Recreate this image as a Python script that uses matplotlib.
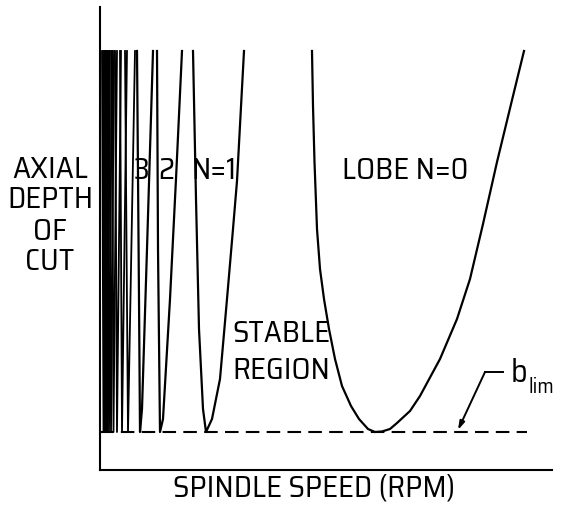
import matplotlib
matplotlib.use("Agg")
import matplotlib.pyplot as plt

plt.rcParams['font.family'] = ['Saira SemiCondensed', 'DejaVu Sans']

# spindle speed (rpm) and axial depth (mm) read along each lobe
lobe0_speed = [4240, 4260, 4290, 4340, 4400, 4480, 4580, 4700, 4840, 5020, 5180, 5360, 5500,
               5640, 5800, 5940, 6200, 6400, 6800, 7140, 7400, 7660, 7940, 8260, 8480]
lobe0_depth = [4.19, 3.64, 3.08, 2.41, 2.01, 1.71, 1.41, 1.11, 0.84, 0.64, 0.51, 0.41, 0.38,
               0.385, 0.41, 0.47, 0.59, 0.74, 1.11, 1.51, 1.91, 2.46, 3.08, 3.74, 4.19]

lobe1_speed = [1860, 1920, 1980, 2060, 2120, 2240, 2400, 2540, 2660, 2740, 2880]
lobe1_depth = [4.19, 2.71, 1.41, 0.61, 0.38, 0.51, 0.91, 1.71, 2.41, 2.89, 4.19]

lobe2_speed = [1140, 1160, 1200, 1260, 1400, 1520, 1640]
lobe2_depth = [4.19, 2.21, 0.38, 0.51, 1.71, 2.91, 4.19]

lobe3_speed = [740, 780, 800, 840, 940, 1060]
lobe3_depth = [4.19, 1.71, 0.38, 0.61, 2.21, 4.19]

# higher lobes N=4..14: left top, minimum, right top speeds
high_left = [500, 400, 300, 240, 190, 150, 120, 100, 80, 60, 40]
high_min = [560, 440, 340, 270, 220, 180, 150, 130, 110, 90, 70]
high_right = [700, 540, 420, 340, 280, 240, 200, 180, 160, 130, 100]

b_lim = 0.38
lobe_top = 4.19
b_lim_end = 8540

fig = plt.figure(figsize=(5.62, 5.06), dpi=100)
ax = fig.add_axes([100 / 562, 35 / 506, 452 / 562, 463 / 506])
ax.set_xlim(0, 9040)
ax.set_ylim(0, 4.63)
for s in ['top', 'right']:
    ax.spines[s].set_visible(False)
for s in ['left', 'bottom']:
    ax.spines[s].set_linewidth(1.5)
ax.set_xticks([])
ax.set_yticks([])

lw = 1.6
ax.plot(lobe0_speed, lobe0_depth, color='black', lw=lw)
ax.plot(lobe1_speed, lobe1_depth, color='black', lw=lw)
ax.plot(lobe2_speed, lobe2_depth, color='black', lw=lw)
ax.plot(lobe3_speed, lobe3_depth, color='black', lw=lw)
for l, m, r in zip(high_left, high_min, high_right):
    ax.plot([l, m, r], [lobe_top, b_lim, lobe_top], color='black', lw=1.3)

ax.plot([0, b_lim_end], [b_lim, b_lim], color='black', lw=1.5,
        ls=(0, (6.5, 3.5)))

# leader for b_lim
ax.plot([7700, 8060], [0.98, 0.98], color='black', lw=1.4)
ax.annotate("", xy=(7160, 0.40), xytext=(7700, 0.98),
            arrowprops=dict(arrowstyle="-|>,head_length=0.5,head_width=0.15",
                            color='black', lw=1.4, shrinkA=0, shrinkB=0))
ax.text(8220, 0.98, "b", fontsize=23, ha='left', va='center')
ax.text(8570, 0.84, "lim", fontsize=15, ha='left', va='center')

fs = 22
ax.text(6100, 3.0, "LOBE N=0", fontsize=fs, ha='center', va='center')
ax.text(2280, 3.0, "N=1", fontsize=fs, ha='center', va='center')
ax.text(1320, 3.0, "2", fontsize=fs, ha='center', va='center')
ax.text(840, 3.0, "3", fontsize=fs, ha='center', va='center')
ax.text(2640, 1.37, "STABLE", fontsize=fs, ha='left', va='center')
ax.text(2640, 1.0, "REGION", fontsize=fs, ha='left', va='center')

for i, word in enumerate(["AXIAL", "DEPTH", "OF", "CUT"]):
    fig.text(50 / 562, 1 - (169 + 31 * i) / 506, word, fontsize=fs,
             ha='center', va='center')

fig.text(314 / 562, 1 - 488 / 506, "SPINDLE SPEED (RPM)", fontsize=fs,
         ha='center', va='center')

fig.savefig("out.png", dpi=100)
